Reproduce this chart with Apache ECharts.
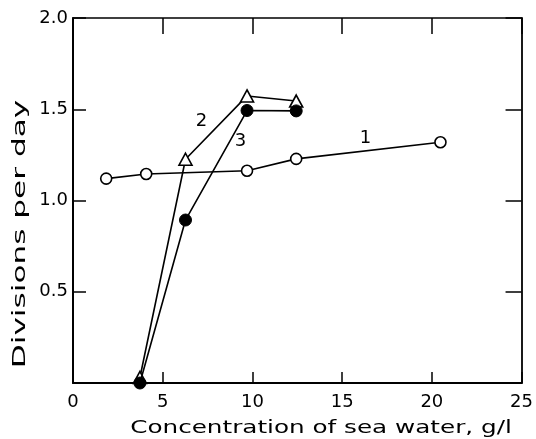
<!DOCTYPE html>
<html>
<head>
<meta charset="utf-8">
<script src="https://cdn.jsdelivr.net/npm/echarts@6/dist/echarts.min.js"></script>
<style>html,body{margin:0;padding:0;background:#fff}#c{width:536px;height:439px}</style>
</head>
<body>
<div id="c"></div>
<script>
// Curve 1: open circles
const series1 = [[1.85, 1.12], [4.08, 1.145], [9.70, 1.163], [12.44, 1.228], [20.48, 1.319]];
// Curve 2: open triangles
const series2 = [[3.73, 0.03], [6.27, 1.226], [9.70, 1.573], [12.44, 1.545]];
// Curve 3: filled circles
const series3 = [[3.73, 0.0], [6.27, 0.893], [9.70, 1.493], [12.44, 1.491]];
// Curve annotations (number, x, y in data units)
const curveLabels = [['1', 16.3, 1.343], ['2', 7.16, 1.436], ['3', 9.33, 1.326]];
const xTickLabels = ['0', '5', '10', '15', '20', '25'];
const yTickLabels = ['', '0.5', '1.0', '1.5', '2.0'];
const xTitle = 'Concentration of sea water, g/l';
const yTitle = 'Divisions per day';

const FONT = 'DejaVu Sans';
const chart = echarts.init(document.getElementById('c'));
const lineStyle = { color: '#000', width: 1.6 };
const frame = (w) => ({ show: true, onZero: false, lineStyle: { color: '#000', width: w } });

chart.setOption({
  animation: false,
  backgroundColor: '#fff',
  grid: { left: 73, right: 12, top: 18, bottom: 56, containLabel: false },
  xAxis: [{
    type: 'value', min: 0, max: 25, interval: 5, position: 'bottom',
    axisLine: frame(2),
    axisTick: { show: true, inside: true, length: 11, lineStyle: { color: '#000', width: 1.5 } },
    axisLabel: { margin: 10, color: '#000', fontFamily: FONT, fontSize: 18,
      formatter: (v) => xTickLabels[Math.round(v / 5)] },
    splitLine: { show: false }
  }, {
    type: 'value', min: 0, max: 25, interval: 5, position: 'top',
    axisLine: frame(1.5),
    axisTick: { show: true, inside: true, length: 16, lineStyle: { color: '#000', width: 1.5 } },
    axisLabel: { show: false }, splitLine: { show: false }
  }],
  yAxis: [{
    type: 'value', min: 0, max: 2, interval: 0.5, position: 'left',
    axisLine: frame(2),
    axisTick: { show: true, inside: true, length: 13, lineStyle: { color: '#000', width: 1.5 } },
    axisLabel: { margin: 5, color: '#000', fontFamily: FONT, fontSize: 18,
      formatter: (v) => yTickLabels[Math.round(v / 0.5)] },
    splitLine: { show: false }
  }, {
    type: 'value', min: 0, max: 2, interval: 0.5, position: 'right',
    axisLine: frame(1.8),
    axisTick: { show: true, inside: true, length: 16, lineStyle: { color: '#000', width: 1.5 } },
    axisLabel: { show: false }, splitLine: { show: false }
  }],
  series: [{
    type: 'line', data: series1, symbol: 'circle', symbolSize: 11, clip: false,
    lineStyle: lineStyle, itemStyle: { color: '#fff', borderColor: '#000', borderWidth: 1.6 }, z: 3
  }, {
    type: 'line', data: series2, symbol: 'triangle', symbolSize: [13, 12], clip: false,
    lineStyle: lineStyle, itemStyle: { color: '#fff', borderColor: '#000', borderWidth: 1.6 }, z: 3
  }, {
    type: 'line', data: series3, symbol: 'circle', symbolSize: 12, clip: false,
    lineStyle: lineStyle, itemStyle: { color: '#000', borderColor: '#000', borderWidth: 1 }, z: 4
  }, {
    type: 'scatter', symbolSize: 0, clip: false, silent: true,
    itemStyle: { opacity: 1, color: '#000' },
    data: curveLabels.map(d => ({ name: d[0], value: [d[1], d[2]] })),
    label: { show: true, position: 'inside', formatter: '{b}', color: '#000',
      fontFamily: FONT, fontSize: 18 }
  }],
  graphic: [{
    type: 'text', x: 321, y: 428, scaleX: 1.37,
    style: { text: xTitle, font: '18px ' + FONT, fill: '#000',
      align: 'center', verticalAlign: 'middle', textAlign: 'center', textVerticalAlign: 'middle' }
  }, {
    type: 'text', x: 20, y: 234, rotation: Math.PI / 2, scaleX: 1.73,
    style: { text: yTitle, font: '18px ' + FONT, fill: '#000',
      align: 'center', verticalAlign: 'middle', textAlign: 'center', textVerticalAlign: 'middle' }
  }]
});
</script>
</body>
</html>
